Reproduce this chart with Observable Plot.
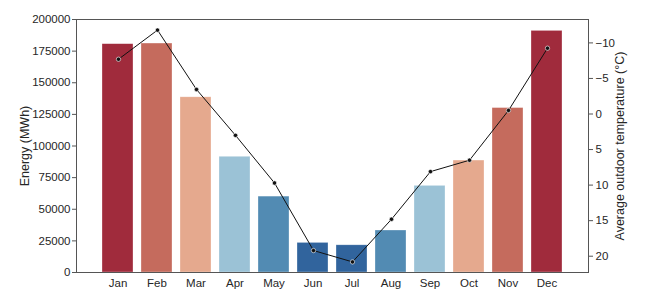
<!DOCTYPE html>
<html><head><meta charset="utf-8">
<script src="https://cdn.jsdelivr.net/npm/d3@7"></script>
<script src="https://cdn.jsdelivr.net/npm/@observablehq/plot@0.6"></script>
<style>
body{margin:0;background:#fff;}
#wrap{position:relative;width:658px;height:308px;}
#wrap svg{position:absolute;left:0;top:0;}
</style></head><body><div id="wrap"></div>
<script>
const months = ["Jan","Feb","Mar","Apr","May","Jun","Jul","Aug","Sep","Oct","Nov","Dec"];
const energy = [180500, 181000, 138500, 91500, 60000, 23400, 21500, 33200, 68500, 88500, 130000, 191000];
const temperature = [-7.7, -11.8, -3.45, 3.0, 9.7, 19.2, 20.8, 14.8, 8.1, 6.5, -0.5, -9.25];
const barColors = ["#a02b3c","#c56b5d","#e5a98e","#9bc2d6","#528bb3","#31649d","#31649d","#528bb3","#9bc2d6","#e5a98e","#c56b5d","#a02b3c"];
const energyTicks = [0,25000,50000,75000,100000,125000,150000,175000,200000];
const tempTicks = [-10,-5,0,5,10,15,20];
const energyLabel = "Energy (MWh)";
const tempLabel = "Average outdoor temperature (°C)";

const data = months.map((m,i)=>({month:m, energy:energy[i], temp:temperature[i]}));
const W=658, H=308, mT=19, mB=36, mL=76, mR=70;
const style = {fontFamily:"'Liberation Sans', Arial, sans-serif", fontSize:"11.5px", color:"#262626", background:"transparent"};

const p1 = Plot.plot({
  width:W, height:H, marginTop:mT, marginBottom:mB, marginLeft:mL, marginRight:mR,
  style,
  x:{type:"band", domain:months, paddingInner:0.2, paddingOuter:0.59, align:0.5},
  y:{domain:[0,200000]},
  color:{type:"ordinal", domain:months, range:barColors},
  marks:[
    Plot.barY(data,{x:"month", y:"energy", fill:"month", stroke:"white", strokeWidth:0.6, strokeOpacity:0.5}),
    Plot.frame({stroke:"#555", strokeWidth:1}),
    Plot.axisY({ticks:energyTicks, tickFormat:d=>String(d), tickSize:4, tickPadding:2, label:null, stroke:"#555"}),
    Plot.axisX({tickSize:0, tickPadding:6, label:null}),
    Plot.text([energyLabel],{frameAnchor:"left", dx:-52, rotate:-90, textAnchor:"middle", lineAnchor:"middle", fontSize:12.5})
  ]
});
const p2 = Plot.plot({
  width:W, height:H, marginTop:mT, marginBottom:mB, marginLeft:mL, marginRight:mR,
  style,
  x:{type:"point", domain:months, padding:0.99, axis:null},
  y:{domain:[22.29,-13.29]},
  marks:[
    Plot.line(data,{x:"month", y:"temp", stroke:"#111", strokeWidth:1}),
    Plot.dot(data,{x:"month", y:"temp", r:2.2, fill:"#111", stroke:"white", strokeWidth:0.6}),
    Plot.axisY({anchor:"right", ticks:tempTicks, tickFormat:d3.format("d"), tickSize:4, tickPadding:3, label:null, stroke:"#555"}),
    Plot.text([tempLabel],{frameAnchor:"right", dx:31, rotate:-90, textAnchor:"middle", lineAnchor:"middle", fontSize:12.5})
  ]
});
document.getElementById("wrap").append(p1, p2);
</script></body></html>
